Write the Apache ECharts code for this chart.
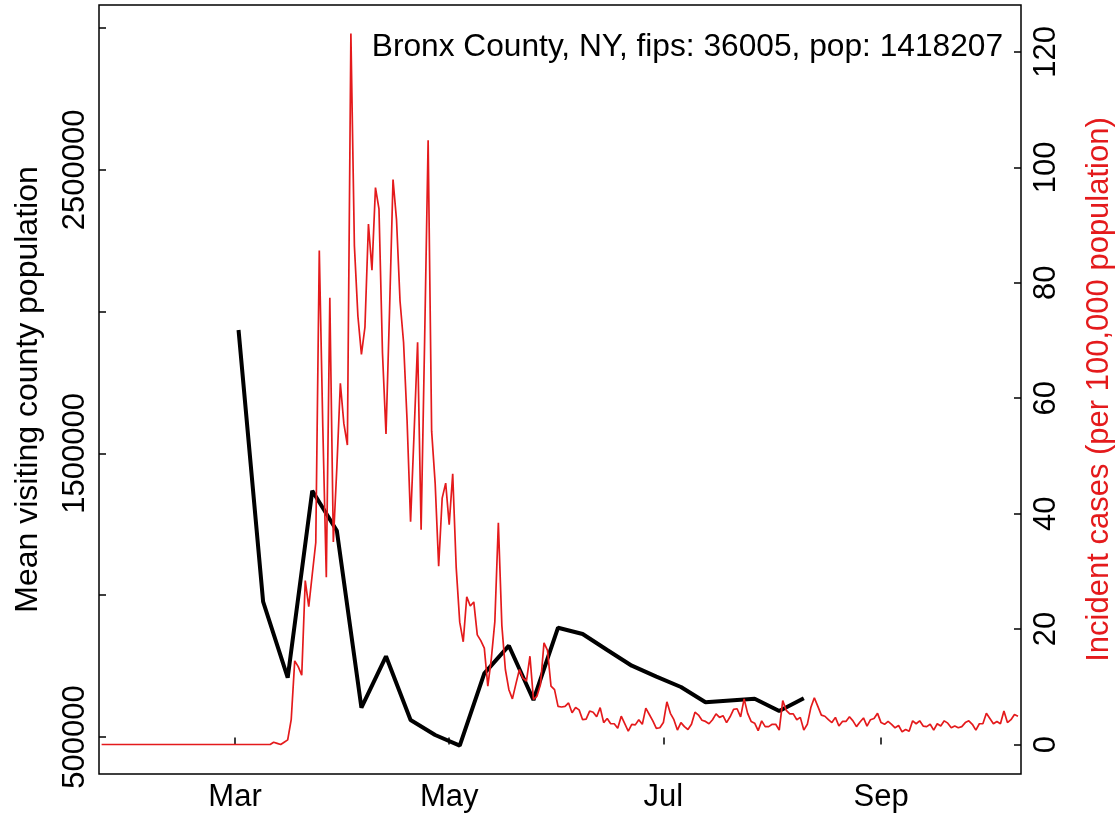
<!DOCTYPE html>
<html><head><meta charset="utf-8">
<script src="https://cdn.jsdelivr.net/npm/echarts@6/dist/echarts.min.js"></script>
<style>html,body{margin:0;padding:0;background:#fff}#c{width:1119px;height:822px}</style>
</head><body><div id="c"></div>
<script>
const titleText = 'Bronx County, NY, fips: 36005, pop: 1418207';
const leftAxisName = 'Mean visiting county population';
const rightAxisName = 'Incident cases (per 100,000 population)';
const xTickDates = ['2020-03-01', '2020-05-01', '2020-07-01', '2020-09-01'];
const xTickLabels = ['Mar', 'May', 'Jul', 'Sep'];
const leftTicks = [500000, 1000000, 1500000, 2000000, 2500000, 3000000];
const leftLabelTicks = [500000, 1500000, 2500000];
const rightTicks = [0, 20, 40, 60, 80, 100, 120];

const blackDates = ['2020-03-02','2020-03-09','2020-03-16','2020-03-23','2020-03-30',
  '2020-04-06','2020-04-13','2020-04-20','2020-04-27','2020-05-04','2020-05-11',
  '2020-05-18','2020-05-25','2020-06-01','2020-06-08','2020-06-15','2020-06-22',
  '2020-06-29','2020-07-06','2020-07-13','2020-07-20','2020-07-27','2020-08-03','2020-08-10'];
const blackValues = [1935000, 977000, 709000, 1368500, 1227400, 603300, 784500, 560000,
  507000, 469300, 724600, 821900, 630500, 885400, 863200, 806800, 751400, 712600,
  676300, 622400, 628700, 635000, 591700, 636500];

const redStartDate = '2020-01-23';
const redValues = [
  0,0,0,0,0,0,0,0,0,0, 0,0,0,0,0,0,0,0,0,0, 0,0,0,0,0,0,0,0,0,0,
  0,0,0,0,0,0,0,0,0,0, 0,0,0,0,0,0,0,0,
  0, 0.4, 0.2, 0, 0.4, 0.8, 4.3, 14.5, 13.5, 12,
  28.4, 23.9, 29.5, 35, 85.6, 55, 29, 77.4, 35.1, 48,
  62.6, 55.6, 51.9, 123.2, 86.4, 74.2, 67.6, 72.3, 90.2, 82.2,
  96.5, 92.8, 67.8, 53.8, 75, 97.9, 90.9, 76.8, 69.7, 56.2,
  38.6, 54, 69.7, 37.2, 70, 104.7, 54.3, 45.3, 30.9, 42.7,
  45.3, 38.1, 46.9, 30.6, 21.2, 17.8, 25.6, 24, 24.7, 19,
  18, 16.7, 10.1, 14.9, 21.3, 38.4, 20.6, 13, 9.5, 7.9,
  10.5, 13, 11.5, 11, 15.3, 7.8, 8.4, 10.4, 17.6, 16.3,
  10.1, 9.5, 6.6, 6.5, 6.6, 7.2, 5.5, 6.4, 6.0, 4.3,
  4.4, 5.8, 5.6, 4.8, 6.4, 3.8, 4.5, 3.6, 3.6, 2.8,
  4.9, 3.6, 2.3, 3.5, 3.4, 4.3, 3.5, 6.3, 5.2, 4.1,
  2.8, 2.9, 3.8, 7.4, 5.4, 4.3, 2.5, 3.8, 3.1, 2.6,
  3.5, 5.6, 5.1, 4.2, 4.0, 3.6, 4.3, 5.3, 4.7, 5.0,
  3.8, 4.8, 6.1, 6.2, 4.8, 7.9, 5.4, 4.0, 3.7, 2.4,
  4.1, 3.1, 3.1, 3.5, 3.5, 2.5, 7.6, 5.9, 5.3, 5.3,
  4.3, 4.7, 2.5, 3.5, 6.4, 8.1, 6.6, 5.1, 4.9, 4.3,
  3.8, 4.7, 3.2, 4.0, 4.0, 4.8, 4.1, 3.1, 3.9, 4.6,
  3.2, 4.3, 4.5, 5.4, 3.8, 3.5, 4.0, 3.5, 2.9, 3.3,
  2.2, 2.6, 2.3, 4.1, 3.6, 4.1, 3.2, 3.1, 3.5, 2.5,
  3.6, 3.2, 4.1, 3.7, 2.9, 3.2, 2.9, 3.1, 3.8, 4.1,
  3.5, 2.5, 3.6, 3.6, 5.4, 4.5, 3.6, 4.0, 3.6, 5.8,
  3.8, 4.3, 5.2, 4.9
];

const DAY = 86400000;
function ts(s) { const p = s.split('-').map(Number); return Date.UTC(p[0], p[1] - 1, p[2]); }
const xTickTs = xTickDates.map(ts);
const redStart = ts(redStartDate);
const redData = redValues.map((v, i) => [redStart + i * DAY, v]);
const blackData = blackValues.map((v, i) => [ts(blackDates[i]), v]);
const axisOrigin = ts('2020-01-22');

const FONT = "'Liberation Sans', Arial, Helvetica, sans-serif";
const FS = 31;
const RED = '#e41a1c';

const chart = echarts.init(document.getElementById('c'), null, { renderer: 'canvas' });
chart.setOption({
  animation: false,
  backgroundColor: '#fff',
  textStyle: { fontFamily: FONT },
  title: {
    text: titleText, right: 111, top: 26,
    textStyle: { fontFamily: FONT, fontSize: 31.7, fontWeight: 'normal', color: '#000' }
  },
  grid: { left: 99, right: 98, top: 5, bottom: 48, show: true, borderColor: '#000', borderWidth: 1.5,
          backgroundColor: 'transparent', containLabel: false, outerBoundsMode: 'none' },
  xAxis: {
    type: 'value',
    min: axisOrigin + 0.256 * DAY,
    max: axisOrigin + 262.86 * DAY,
    axisLine: { show: false },
    splitLine: { show: false },
    axisTick: { show: true, inside: true, length: 7, customValues: xTickTs, lineStyle: { color: '#000', width: 1.5 } },
    axisLabel: {
      customValues: xTickTs, fontSize: FS, color: '#000', fontFamily: FONT, margin: 8,
      formatter: function (v) {
        let best = 0;
        for (let i = 0; i < xTickTs.length; i++) if (Math.abs(xTickTs[i] - v) < Math.abs(xTickTs[best] - v)) best = i;
        return xTickLabels[best];
      }
    }
  },
  yAxis: [{
    type: 'value', position: 'left',
    min: 369500, max: 3081100,
    axisLine: { show: false }, splitLine: { show: false },
    axisTick: { show: true, inside: true, length: 7, customValues: leftTicks, lineStyle: { color: '#000', width: 1.5 } },
    axisLabel: { customValues: leftLabelTicks, rotate: 90, fontSize: FS, color: '#000', fontFamily: FONT, margin: 8,
                 formatter: function (v) { return String(Math.round(v)); } },
    name: leftAxisName, nameLocation: 'middle', nameRotate: 90, nameGap: 55,
    nameTextStyle: { fontSize: 32, color: '#000', fontFamily: FONT }
  }, {
    type: 'value', position: 'right',
    min: -5.11, max: 128.14,
    axisLine: { show: false }, splitLine: { show: false },
    axisTick: { show: true, inside: true, length: 7, customValues: rightTicks, lineStyle: { color: '#000', width: 1.5 } },
    axisLabel: { customValues: rightTicks, rotate: 90, fontSize: FS, color: '#000', fontFamily: FONT, margin: 10,
                 formatter: function (v) { return String(Math.round(v)); } },
    name: rightAxisName, nameLocation: 'middle', nameRotate: 90, nameGap: 63,
    nameTextStyle: { fontSize: FS, color: RED, fontFamily: FONT }
  }],
  series: [{
    type: 'line', yAxisIndex: 0, data: blackData, showSymbol: false, symbol: 'none',
    lineStyle: { color: '#000', width: 4 }, z: 2
  }, {
    type: 'line', yAxisIndex: 1, data: redData, showSymbol: false, symbol: 'none',
    lineStyle: { color: RED, width: 1.7 }, z: 3
  }]
});
</script>
</body></html>
